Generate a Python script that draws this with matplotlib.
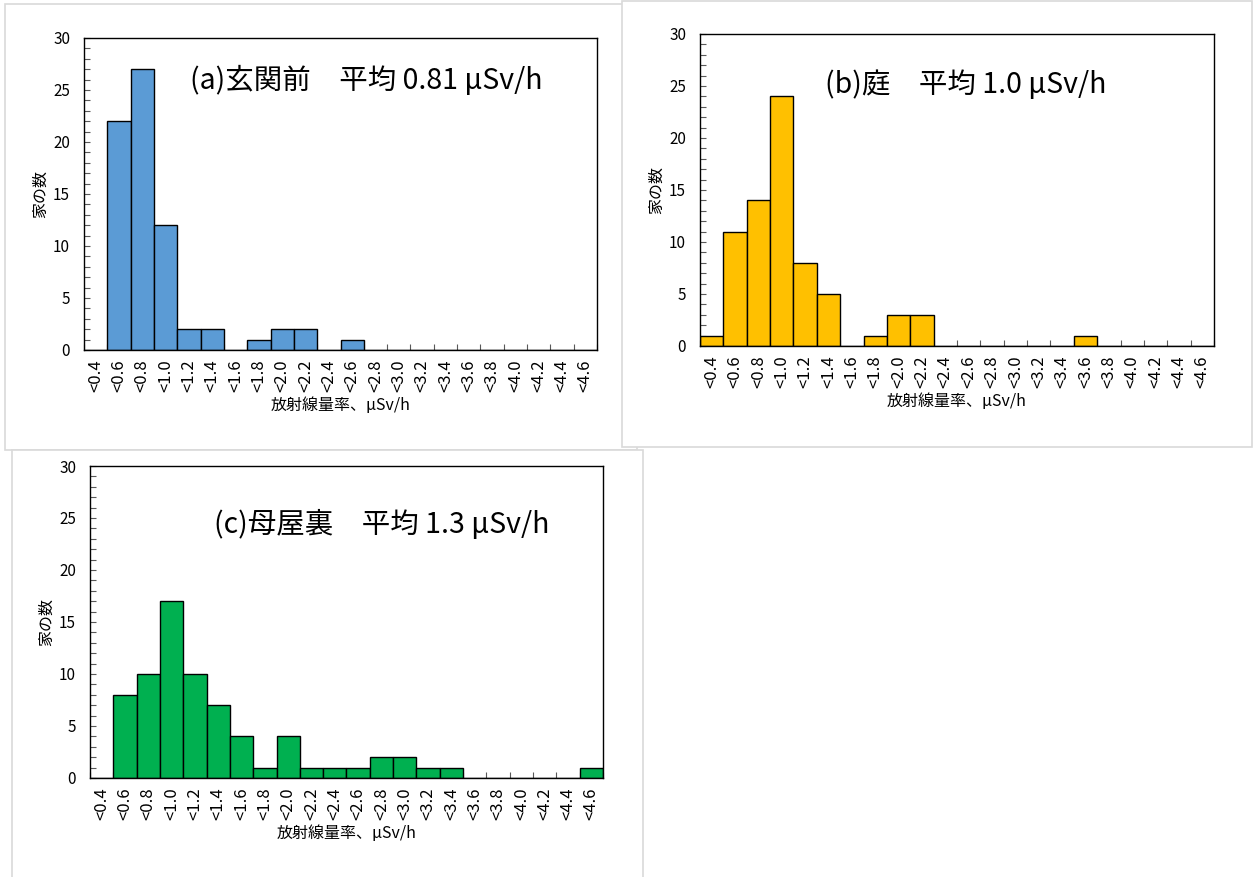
import numpy as np
import matplotlib
matplotlib.use("Agg")
import matplotlib.pyplot as plt
from matplotlib.patches import Rectangle
from matplotlib.ticker import MultipleLocator, FixedLocator

plt.rcParams['font.family'] = ['Noto Sans CJK JP', 'DejaVu Sans']

# Dose-rate bins (upper bounds) and house counts per location
bins = ["<0.4", "<0.6", "<0.8", "<1.0", "<1.2", "<1.4", "<1.6", "<1.8", "<2.0", "<2.2", "<2.4",
        "<2.6", "<2.8", "<3.0", "<3.2", "<3.4", "<3.6", "<3.8", "<4.0", "<4.2", "<4.4", "<4.6"]
counts_entrance = [0, 22, 27, 12, 2, 2, 0, 1, 2, 2, 0, 1, 0, 0, 0, 0, 0, 0, 0, 0, 0, 0]
counts_garden = [1, 11, 14, 24, 8, 5, 0, 1, 3, 3, 0, 0, 0, 0, 0, 0, 1, 0, 0, 0, 0, 0]
counts_backyard = [0, 8, 10, 17, 10, 7, 4, 1, 4, 1, 1, 1, 2, 2, 1, 1, 0, 0, 0, 0, 0, 1]

titles = ["(a)玄関前　平均 0.81 μSv/h", "(b)庭　平均 1.0 μSv/h", "(c)母屋裏　平均 1.3 μSv/h"]
colors = ["#5B9BD5", "#FFC000", "#00B050"]

W, H = 1253, 877
fig = plt.figure(figsize=(W / 100, H / 100), dpi=100)
fig.patch.set_facecolor("white")


def px_box(x0, y0, x1, y1):
    # pixel box (top-left origin) -> figure fraction rect
    return [x0 / W, 1 - y1 / H, (x1 - x0) / W, (y1 - y0) / H]


# chart-area frames, drawn back to front
frames = [(5, 4, 637, 450), (622, 1, 1252, 447), (12, 450, 643, 884)]
for i, (x0, y0, x1, y1) in enumerate(frames):
    l, b, w, h = px_box(x0, y0, x1, y1)
    fig.add_artist(Rectangle((l, b), w, h, transform=fig.transFigure,
                             facecolor="white", edgecolor="#D9D9D9", lw=1.2, zorder=-3 + i))

plot_areas = [(84, 38, 597, 350), (700, 34, 1214, 346), (90, 466, 603, 778)]
title_pos = [(0.207, 0.862), (0.243, 0.837), (0.242, 0.811)]
series = [counts_entrance, counts_garden, counts_backyard]

x = np.arange(len(bins))
for box, counts, color, title, tpos in zip(plot_areas, series, colors, titles, title_pos):
    ax = fig.add_axes(px_box(*box))
    ax.bar(x, counts, width=1.0, color=color, edgecolor="black", linewidth=1.0, zorder=2)
    ax.set_xlim(-0.5, len(bins) - 0.5)
    ax.set_ylim(0, 30)

    ax.set_xticks(x)
    ax.set_xticklabels(bins, rotation=90, fontsize=12)
    ax.xaxis.set_minor_locator(FixedLocator(np.arange(len(bins) + 1) - 0.5))
    ax.tick_params(axis="x", which="major", length=0, pad=7)
    ax.tick_params(axis="x", which="minor", direction="in", length=4, width=0.8, color="#595959")

    ax.yaxis.set_major_locator(MultipleLocator(5))
    ax.yaxis.set_minor_locator(MultipleLocator(1))
    ax.tick_params(axis="y", which="both", direction="in", length=4, width=0.8,
                   color="#595959", labelsize=11, pad=10)

    for s in ax.spines.values():
        s.set_linewidth(1.0)
        s.set_color("black")
        s.set_zorder(3)

    ax.set_xlabel("放射線量率、μSv/h", fontsize=11.5, labelpad=3)
    ax.set_ylabel("家の数", fontsize=11.5, labelpad=3)
    ax.text(tpos[0], tpos[1], title, transform=ax.transAxes, fontsize=20.5,
            ha="left", va="center")

fig.savefig("out.png", dpi=100, facecolor="white")
